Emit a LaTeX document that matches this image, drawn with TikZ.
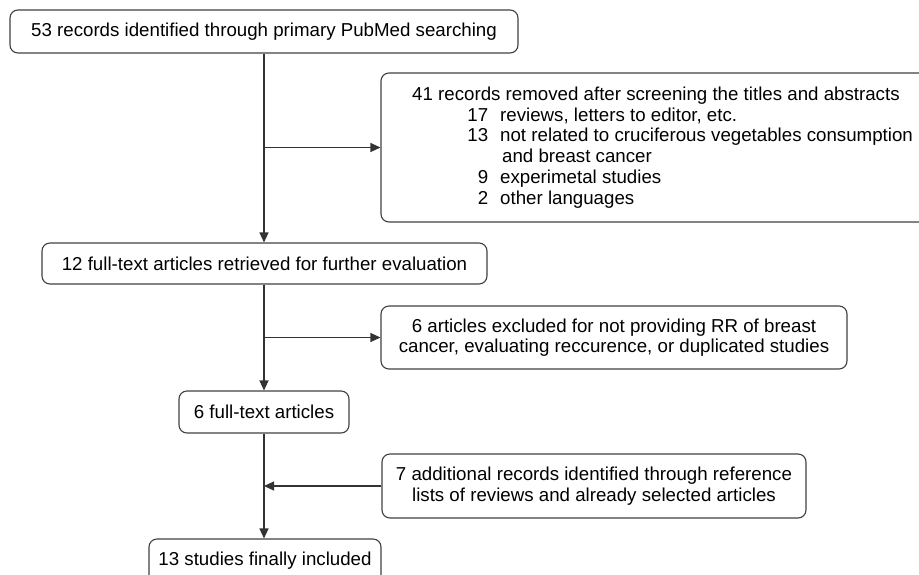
\documentclass[tikz,border=0pt]{standalone}
\usepackage{fontspec}
\setmainfont{Liberation Sans}
\usetikzlibrary{arrows.meta}
\begin{document}
\begin{tikzpicture}[x=1pt,y=-1pt,
  box/.style={draw=black!75, line width=1.1pt, rounded corners=8pt, inner sep=0pt,
              align=center, font=\fontsize{18.7}{20.5}\selectfont, text=black},
  txt/.style={inner sep=0pt, align=left, font=\fontsize{18.7}{20.8}\selectfont, text=black},
  conn/.style={draw=black!80, line width=1.2pt},
  arr/.style={conn, -{Triangle[length=10pt,width=9pt]}}]
\clip (0,0) rectangle (919,574);
\node[box, minimum width=508pt, minimum height=43pt] (b1) at (264,31.5)
  {53 records identified through primary PubMed searching};
\node[box, minimum width=549pt, minimum height=149pt] (b2) at (655.5,147.5) {};
\node[txt, anchor=west] (b2t) at (412,147.5) {41 records removed after screening the titles and abstracts\\
\makebox[76pt][r]{17}\hspace{12pt}reviews, letters to editor, etc.\\
\makebox[76pt][r]{13}\hspace{12pt}not related to cruciferous vegetables consumption\\
\hspace{90pt}and breast cancer\\
\makebox[76pt][r]{9}\hspace{12pt}experimetal studies\\
\makebox[76pt][r]{2}\hspace{12pt}other languages};
\node[box, minimum width=445pt, minimum height=41pt] (b3) at (264.5,263.5)
  {12 full-text articles retrieved for further evaluation};
\node[box, minimum width=466pt, minimum height=63pt] (b4) at (614,337.5)
  {6 articles excluded for not providing RR of breast\\cancer, evaluating reccurence, or duplicated studies};
\node[box, minimum width=170pt, minimum height=42pt] (b5) at (264,412)
  {6 full-text articles};
\node[box, minimum width=424pt, minimum height=64pt] (b6) at (594,486)
  {7 additional records identified through reference\\lists of reviews and already selected articles};
\node[box, minimum width=232pt, minimum height=44pt] (b7) at (265,561)
  {13 studies finally included};
\coordinate (j1) at (b1.south |- b2.west);
\coordinate (j2) at (b1.south |- b4.west);
\coordinate (j3) at (b1.south |- b6.west);
\draw[arr] (b1.south) -- (b1.south |- b3.north);
\draw[arr] (j1) -- (b2.west);
\draw[arr] (b1.south |- b3.south) -- (b1.south |- b5.north);
\draw[arr] (j2) -- (b4.west);
\draw[arr] (b1.south |- b5.south) -- (b1.south |- b7.north);
\draw[arr] (b6.west) -- (j3);
\end{tikzpicture}
\end{document}
